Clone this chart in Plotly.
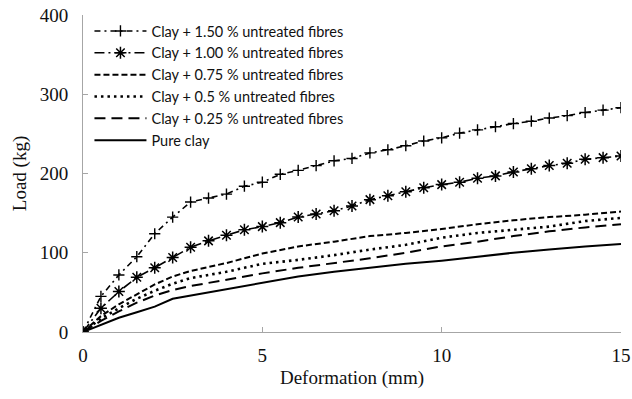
import plotly.graph_objects as go

# Deformation readings (mm)
deform_marked = [0, 0.5, 1, 1.5, 2, 2.5, 3, 3.5, 4, 4.5, 5, 5.5, 6, 6.5, 7, 7.5,
                 8, 8.5, 9, 9.5, 10, 10.5, 11, 11.5, 12, 12.5, 13, 13.5, 14, 14.5, 15]
deform_plain = [0, 0.5, 1, 1.5, 2, 2.5, 3, 3.5, 4, 4.5, 5, 6, 7, 8, 9, 10, 11, 12, 13, 14, 15]

# Load (kg) for each mix
load_150 = [0, 45, 72, 95, 124, 145, 164, 169, 174, 184, 189, 199, 204, 210, 216, 219,
            226, 230, 235, 241, 245, 251, 255, 259, 263, 266, 270, 273, 277, 280, 283]
load_100 = [0, 30, 51, 69, 81, 94, 107, 115, 122, 129, 133, 138, 145, 149, 153, 159,
            167, 172, 177, 182, 186, 189, 194, 197, 202, 206, 210, 213, 218, 220, 222]
load_075 = [0, 20, 35, 47, 60, 70, 77, 82, 87, 93, 99, 108, 114, 121, 125, 130, 136, 141, 145, 148, 152]
load_050 = [0, 17, 30, 42, 52, 61, 68, 72, 76, 81, 86, 91, 97, 104, 110, 119, 125, 129, 133, 140, 144]
load_025 = [0, 14, 26, 37, 46, 53, 58, 62, 66, 70, 74, 81, 87, 93, 100, 108, 114, 121, 127, 132, 136]
load_pure = [0, 9, 18, 25, 32, 42, 46, 50, 54, 58, 62, 70, 76, 81, 86, 90, 95, 100, 104, 108, 111]

names = [
    "Clay + 1.50 % untreated fibres",
    "Clay + 1.00 % untreated fibres",
    "Clay + 0.75 % untreated fibres",
    "Clay + 0.5 % untreated fibres",
    "Clay + 0.25 % untreated fibres",
    "Pure clay",
]

fig = go.Figure()

fig.add_trace(go.Scatter(
    x=deform_marked, y=load_150, name=names[0], mode="lines+markers",
    line=dict(color="black", width=1.6, dash="6px,4px,2px,4px"),
    marker=dict(symbol="cross-thin-open", size=8, color="black",
                line=dict(color="black", width=1.4)),
))
fig.add_trace(go.Scatter(
    x=deform_marked, y=load_100, name=names[1], mode="lines+markers",
    line=dict(color="black", width=1.6, dash="10px,4px,2px,4px"),
    marker=dict(symbol="asterisk-open", size=10, color="black",
                line=dict(color="black", width=1.5)),
))
fig.add_trace(go.Scatter(
    x=deform_plain, y=load_075, name=names[2], mode="lines",
    line=dict(color="black", width=2, dash="6px,3px"),
))
fig.add_trace(go.Scatter(
    x=deform_plain, y=load_050, name=names[3], mode="lines",
    line=dict(color="black", width=2.6, dash="2.5px,4px"),
))
fig.add_trace(go.Scatter(
    x=deform_plain, y=load_025, name=names[4], mode="lines",
    line=dict(color="black", width=2, dash="11px,6px"),
))
fig.add_trace(go.Scatter(
    x=deform_plain, y=load_pure, name=names[5], mode="lines",
    line=dict(color="black", width=2),
))

serif = "Liberation Serif, Times New Roman, serif"

fig.update_layout(
    width=632, height=399,
    margin=dict(l=83, r=11, t=15, b=67, autoexpand=False),
    paper_bgcolor="white", plot_bgcolor="white",
    showlegend=True,
    legend=dict(
        x=0.012, y=1.0, xanchor="left", yanchor="top",
        font=dict(family="Lato, sans-serif", size=14.5, color="#111"),
        bgcolor="rgba(0,0,0,0)", itemwidth=52, tracegroupgap=0,
    ),
    xaxis=dict(
        range=[0, 15], tickvals=[0, 5, 10, 15], showgrid=False, zeroline=False,
        showline=True, linecolor="#a6a6a6", linewidth=1, automargin=False,
        ticks="inside", ticklen=5, tickcolor="#a6a6a6",
        tickfont=dict(family=serif, size=19, color="#111"),
        ticklabelstandoff=6,
        title=dict(text="Deformation (mm)", font=dict(family=serif, size=19, color="#111"),
                   standoff=5),
    ),
    yaxis=dict(
        range=[0, 400], tickvals=[0, 100, 200, 300, 400], showgrid=False, zeroline=False,
        showline=True, linecolor="#a6a6a6", linewidth=1, automargin=False,
        ticks="inside", ticklen=5, tickcolor="#a6a6a6",
        tickfont=dict(family=serif, size=19, color="#111"),
        ticklabelstandoff=10,
        title=dict(text="Load (kg)", font=dict(family=serif, size=19, color="#111"),
                   standoff=8),
    ),
)

fig.write_html("out.html")
